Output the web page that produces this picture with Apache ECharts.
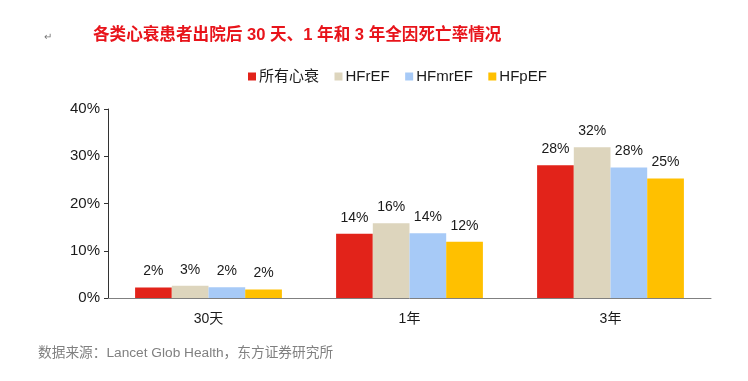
<!DOCTYPE html>
<html><head><meta charset="utf-8">
<script src="https://cdn.jsdelivr.net/npm/echarts@6/dist/echarts.min.js"></script>
<style>html,body{margin:0;padding:0;background:#fff}#c{width:748px;height:381px}</style>
</head><body><div id="c"></div>
<script>
const categories = ['30天', '1年', '3年'];
const seriesNames = ['所有心衰', 'HFrEF', 'HFmrEF', 'HFpEF'];
const allHF = [2.2, 13.6, 28.1];
const hfref = [2.6, 15.8, 31.9];
const hfmref = [2.3, 13.7, 27.6];
const hfpef = [1.8, 11.9, 25.3];
const yTicks = [0, 10, 20, 30, 40];
const colors = ['#e2231a', '#ddd5bd', '#a7caf7', '#ffc000'];
const values = [allHF, hfref, hfmref, hfpef];

const chart = echarts.init(document.getElementById('c'));
const font = 'Liberation Sans, Arial, Noto Sans CJK SC, sans-serif';
chart.setOption({
  animation: false,
  textStyle: {fontFamily: font},
  title: {
    text: '各类心衰患者出院后 30 天、1 年和 3 年全因死亡率情况',
    left: 88, top: 22,
    textStyle: {color: '#e8141b', fontSize: 16.6, fontWeight: 'bold', fontFamily: font}
  },
  graphic: [
    {type: 'text', left: 44, top: 32, style: {text: '↵', fill: '#777', fontSize: 10, fontFamily: font}},
    {type: 'text', left: 38, top: 346, style: {text: '数据来源：Lancet Glob Health，东方证券研究所', fill: '#808080', fontSize: 13.7, fontFamily: font}}
  ],
  legend: {
    top: 64, left: 243,
    itemWidth: 8, itemHeight: 8, itemGap: 15.5,
    icon: 'rect',
    textStyle: {fontSize: 15, color: '#1a1a1a', fontFamily: font, padding: [0, 0, 0, -2]},
    data: seriesNames
  },
  grid: {left: 108, right: 37, top: 109, bottom: 83},
  xAxis: {
    type: 'category', data: categories,
    axisLine: {lineStyle: {color: '#808080', width: 1}},
    axisTick: {show: false},
    axisLabel: {fontSize: 14, color: '#1a1a1a', margin: 14, fontFamily: font}
  },
  yAxis: {
    type: 'value', min: yTicks[0], max: yTicks[yTicks.length - 1], interval: 10,
    axisLine: {show: true, lineStyle: {color: '#333', width: 1}},
    axisTick: {show: true, inside: false, length: 4, lineStyle: {color: '#333'}},
    splitLine: {show: false},
    axisLabel: {fontSize: 15, color: '#1a1a1a', margin: 8, fontFamily: font, formatter: v => v + '%'}
  },
  series: seriesNames.map((n, i) => ({
    name: n, type: 'bar', data: values[i],
    barWidth: 36.7, barGap: '0%',
    itemStyle: {color: colors[i]},
    label: {show: true, position: 'top', distance: 9, fontSize: 14, color: '#1a1a1a', fontFamily: font,
      formatter: p => Math.round(p.value) + '%'}
  }))
});
</script></body></html>
